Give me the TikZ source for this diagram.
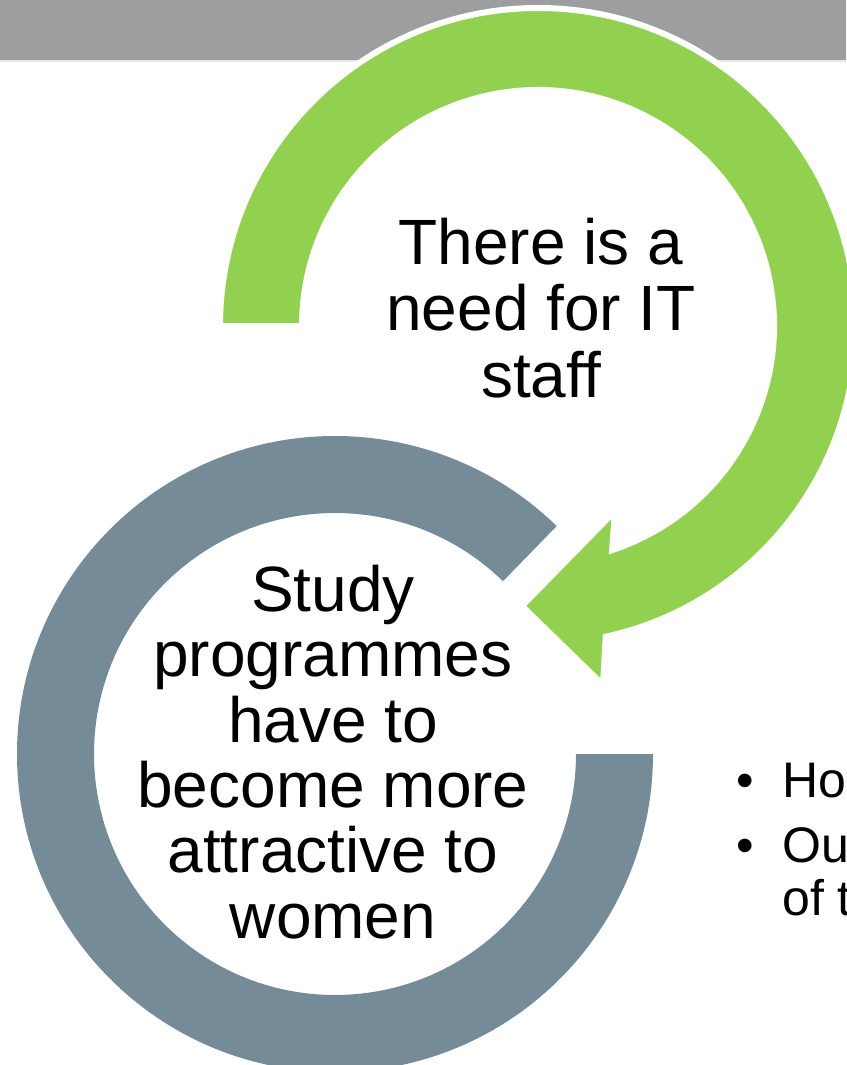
\documentclass[tikz,border=0pt]{standalone}
\usepackage{fontspec}
\setmainfont{Liberation Sans}
\usetikzlibrary{calc}
\definecolor{bandgray}{RGB}{157,158,160}
\definecolor{bandedge}{RGB}{232,232,232}
\definecolor{ringgray}{RGB}{117,139,152}
\definecolor{arrowgreen}{RGB}{146,208,80}
\tikzset{
  bigtext/.style={font=\fontsize{64}{66.5}\selectfont, align=center, inner sep=0pt, anchor=base},
  listtext/.style={font=\fontsize{50}{53}\selectfont, align=left, inner sep=0pt, anchor=base west},
}
\begin{document}
\begin{tikzpicture}[x=1pt,y=1pt]
\useasboundingbox (0,0) rectangle (846,-1065);
% title band
\fill[bandgray] (0,0) rectangle (846,-60);
\fill[bandedge] (0,-60) rectangle (846,-62.5);
% grey ring
\coordinate (C2) at (335,-754);
\fill[ringgray] ($(C2)+(0:318)$) arc[start angle=0, end angle=-314.2, radius=318]
  -- ($(C2)+(45.8:241)$) arc[start angle=45.8, end angle=360, radius=241] -- cycle;
% green circular arrow
\coordinate (C1) at (538,-326);
\filldraw[fill=arrowgreen, draw=white, line width=6pt]
  ($(C1)+(180:318)$) arc[start angle=180, end angle=-77.7, radius=318]
  -- (603,-685) -- (522,-606) -- (615,-511)
  -- ($(C1)+(-71.7:236)$) arc[start angle=-71.7, end angle=180, radius=236] -- cycle;
% texts (multi-line nodes are placed by the baseline of their last line)
\node[bigtext] (need) at (541,-397) {There is a\\need for IT\\staff};
\node[bigtext, font=\fontsize{64}{65.3}\selectfont] (study) at (333,-938)
  {Study\\programmes\\have to\\become more\\attractive to\\women};
\node[listtext] (b1) at (736,-797) {•};
\node[listtext] (i1) at (782,-797) {Ho};
\node[listtext] (b2) at (736,-862) {•};
\node[listtext] (i2) at (782,-915) {Ou\\of t};
\end{tikzpicture}
\end{document}
